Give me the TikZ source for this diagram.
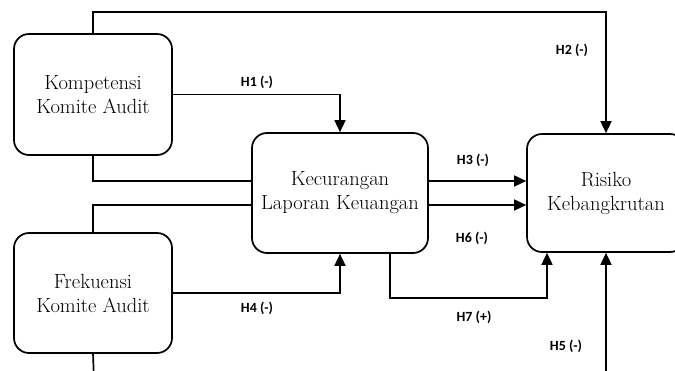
\documentclass[tikz,border=0pt]{standalone}
\usepackage{fontspec}
\newfontfamily\lblfont{Carlito}
\usetikzlibrary{arrows.meta,calc}
\begin{document}
\begin{tikzpicture}[x=1pt,y=-1pt,
	box/.style={draw,line width=1.7pt,rounded corners=15pt,align=center,inner sep=0pt,
		font=\fontsize{20.5}{24}\selectfont},
	link/.style={line width=1.7pt},
	arr/.style={link,-{Triangle[length=12pt,width=11pt]}},
	hyp/.style={font=\lblfont\bfseries\fontsize{14}{16}\selectfont}]
	\useasboundingbox (0,0) rectangle (675,371);
	\clip (0,0) rectangle (675,371);
	% variabel
	\node[box,minimum width=158pt,minimum height=121pt] (kka) at (93,94.5) {Kompetensi\\Komite Audit};
	\node[box,minimum width=158pt,minimum height=120pt] (fka) at (93,293) {Frekuensi\\Komite Audit};
	\node[box,minimum width=176pt,minimum height=120pt] (klk) at (340,193) {Kecurangan\\Laporan Keuangan};
	\node[box,minimum width=158pt,minimum height=118pt] (rk) at (606,193) {Risiko\\Kebangkrutan};
	\coordinate (atas) at (606,12);
	\coordinate (bawahf) at (94,380);
	\coordinate (bawahr) at (606,380);
	% jalur
	\draw[arr] (kka.north) |- (atas) -- (rk.north);
	\draw[arr] (kka.east) -| (klk.north);
	\draw[link] (kka.south) |- ($(klk.west)+(0,-12)$);
	\draw[link] (fka.north) |- ($(klk.west)+(0,12)$);
	\draw[link] (fka.south) -- (bawahf);
	\draw[arr] (fka.east) -| (klk.south);
	\draw[arr] ($(klk.east)+(0,-12)$) -- ($(rk.west)+(0,-12)$);
	\draw[arr] ($(klk.east)+(0,12)$) -- ($(rk.west)+(0,12)$);
	\draw[arr] ($(klk.south)+(50,0)$) -- ++(0,44) -| ($(rk.south)+(-59,0)$);
	\draw[arr] (bawahr) -- (rk.south);
	% hipotesis
	\node[hyp] (h1) at (257,82) {H1 (-)};
	\node[hyp] (h2) at (572,50) {H2 (-)};
	\node[hyp] (h3) at (473,160) {H3 (-)};
	\node[hyp] (h4) at (257,308) {H4 (-)};
	\node[hyp] (h5) at (566,346) {H5 (-)};
	\node[hyp] (h6) at (472,238) {H6 (-)};
	\node[hyp] (h7) at (474,317) {H7 (+)};
\end{tikzpicture}
\end{document}
